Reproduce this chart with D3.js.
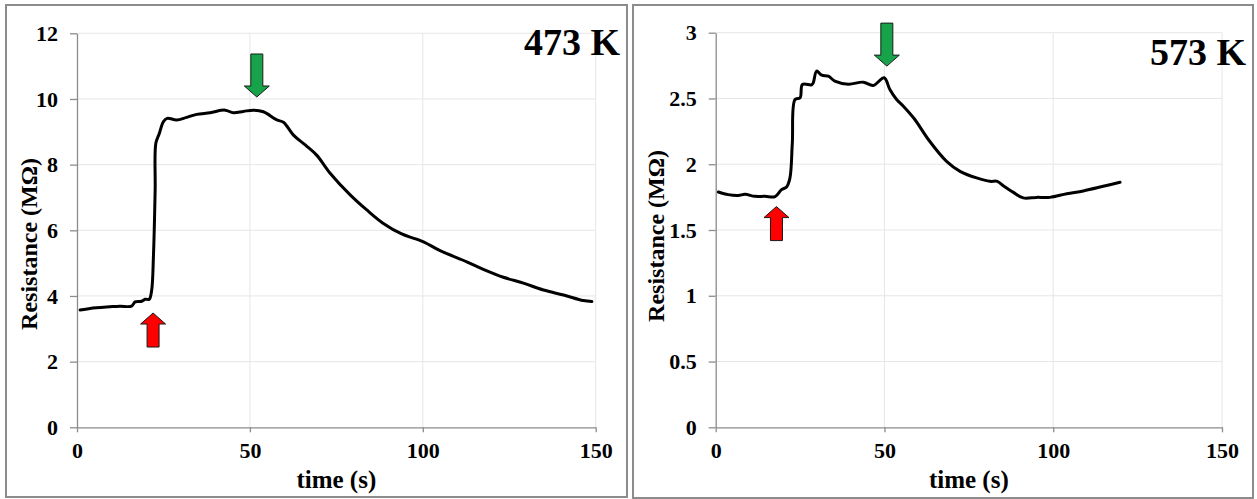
<!DOCTYPE html>
<html>
<head>
<meta charset="utf-8">
<script src="https://cdn.jsdelivr.net/npm/d3@7"></script>
<style>
  body { margin: 0; background: #fff; }
  text { font-family: "Liberation Serif", "Times New Roman", serif; font-weight: bold; fill: #000; }
</style>
</head>
<body>
<div id="chart"></div>
<script>
var svgWidth = 1257;
var svgHeight = 499;

// 473 K run
var time473 = [0.9, 3.8, 9.5, 12.4, 15.8, 16.8, 18.7, 19.7, 20.9, 21.6, 22.1, 22.6, 22.8, 23.8, 25, 26.1, 28.8, 31.7, 34.6, 38.5, 42.8, 45.2, 48.1, 51, 53.9, 57.8, 59.7, 62.6, 66, 69.3, 73.2, 79, 83.8, 88.6, 93.9, 100.2, 105, 112.7, 117.5, 123.3, 129.1, 134.9, 140.7, 146.4, 148.9];
var res473 = [3.57, 3.62, 3.67, 3.69, 3.69, 3.82, 3.84, 3.9, 3.9, 4.18, 5.2, 7.23, 8.65, 8.95, 9.31, 9.41, 9.36, 9.44, 9.53, 9.58, 9.66, 9.58, 9.62, 9.66, 9.61, 9.36, 9.29, 8.9, 8.6, 8.29, 7.74, 7.08, 6.62, 6.21, 5.89, 5.65, 5.38, 5.04, 4.81, 4.57, 4.39, 4.18, 4.03, 3.86, 3.83];

// 573 K run
var time573 = [0.8, 3.7, 6.7, 8.7, 11.6, 14.6, 17.6, 19.5, 21, 22, 22.7, 23.5, 25, 25.7, 28.4, 28.9, 29.9, 31.4, 33.4, 35.3, 39.3, 43.7, 46.7, 49.9, 51.6, 53.6, 55.6, 59, 63, 68.4, 72.4, 77.3, 81.3, 83.4, 85.2, 88.2, 91.1, 95.1, 99, 104, 108.9, 114.8, 119.8];
var res573 = [1.789, 1.769, 1.763, 1.771, 1.756, 1.756, 1.754, 1.807, 1.827, 1.896, 2.162, 2.492, 2.505, 2.606, 2.604, 2.619, 2.708, 2.677, 2.669, 2.632, 2.609, 2.624, 2.599, 2.657, 2.568, 2.492, 2.441, 2.34, 2.188, 2.022, 1.946, 1.896, 1.87, 1.87, 1.837, 1.786, 1.744, 1.748, 1.748, 1.776, 1.797, 1.832, 1.863];

// gas on (red, up) / gas off (green, down) arrow tips
var arrowTime473 = [22, 52];
var arrowRes473 = [3.48, 10.06];
var arrowTime573 = [18, 50.7];
var arrowRes573 = [1.678, 2.746];
var arrowDir = ["up", "down"];

var xTicks = [0, 50, 100, 150];
var yTicks473 = [0, 2, 4, 6, 8, 10, 12];
var yTicks573 = [0, 0.5, 1, 1.5, 2, 2.5, 3];

var panels = [
  {label: "473 K", time: time473, res: res473, aTime: arrowTime473, aRes: arrowRes473, yTicks: yTicks473, yMax: 12,
   frame: [6, 5, 621, 492], plot: {left: 77, right: 595.7, top: 33.3, bottom: 427.3},
   labelY: 55, titleX: 37, titleY: 244},
  {label: "573 K", time: time573, res: res573, aTime: arrowTime573, aRes: arrowRes573, yTicks: yTicks573, yMax: 3,
   frame: [633, 5, 620, 493], plot: {left: 715.7, right: 1222, top: 32.7, bottom: 427.3},
   labelY: 65, titleX: 663.5, titleY: 236}
];

var svg = d3.select("#chart").append("svg").attr("width", svgWidth).attr("height", svgHeight);

panels.forEach(function(p) {
  var g = svg.append("g");

  g.append("rect")
    .attr("x", p.frame[0]).attr("y", p.frame[1])
    .attr("width", p.frame[2]).attr("height", p.frame[3])
    .attr("fill", "#fff").attr("stroke", "#8c8c8c").attr("stroke-width", 2);

  var xScale = d3.scaleLinear().domain([0, 150]).range([p.plot.left, p.plot.right]);
  var yScale = d3.scaleLinear().domain([0, p.yMax]).range([p.plot.bottom, p.plot.top]);

  // gridlines
  g.append("g").selectAll("line").data(p.yTicks.slice(1)).enter().append("line")
    .attr("x1", p.plot.left).attr("x2", p.plot.right)
    .attr("y1", d => yScale(d)).attr("y2", d => yScale(d))
    .attr("stroke", "#e6e6e6").attr("stroke-width", 1);
  g.append("g").selectAll("line").data(xTicks.slice(1)).enter().append("line")
    .attr("x1", d => xScale(d)).attr("x2", d => xScale(d))
    .attr("y1", p.plot.top).attr("y2", p.plot.bottom)
    .attr("stroke", "#e6e6e6").attr("stroke-width", 1);

  var bottomAxis = d3.axisBottom(xScale).tickValues(xTicks).tickSize(5).tickSizeOuter(0);
  var leftAxis = d3.axisLeft(yScale).tickValues(p.yTicks).tickFormat(d3.format("~g"))
    .tickSize(7).tickPadding(12).tickSizeOuter(0);

  var xAxis = g.append("g").attr("transform", `translate(0,${p.plot.bottom})`).call(bottomAxis);
  var yAxis = g.append("g").attr("transform", `translate(${p.plot.left},0)`).call(leftAxis);

  [xAxis, yAxis].forEach(function(a) {
    a.attr("font-family", null).attr("font-size", null);
    a.select(".domain").attr("stroke", "#8c8c8c").attr("stroke-width", 1.3);
    a.selectAll(".tick line").attr("stroke", "#8c8c8c").attr("stroke-width", 1.3);
    a.selectAll(".tick text")
      .style("font-family", "'Liberation Serif', 'Times New Roman', serif")
      .style("font-weight", "bold")
      .style("font-size", "22px")
      .attr("fill", "#000");
  });
  xAxis.selectAll(".tick text").attr("y", 31).attr("dy", 0);

  var line = d3.line()
    .x((d, i) => xScale(p.time[i]))
    .y(d => yScale(d))
    .curve(d3.curveCatmullRom.alpha(0.5));

  g.append("path").datum(p.res)
    .attr("d", line)
    .attr("fill", "none").attr("stroke", "#000").attr("stroke-width", 3)
    .attr("stroke-linejoin", "round").attr("stroke-linecap", "round");

  // arrows
  p.aTime.forEach(function(t, i) {
    var tipX = xScale(t), tipY = yScale(p.aRes[i]);
    var down = arrowDir[i] === "down";
    var len = down ? 43 : 34, head = 11, hw = 12.5, sw = 6;
    var s = down ? -1 : 1;
    var pts = [
      [0, 0], [hw, s * head], [sw, s * head], [sw, s * len],
      [-sw, s * len], [-sw, s * head], [-hw, s * head]
    ];
    g.append("path")
      .attr("d", "M" + pts.map(q => (tipX + q[0]) + "," + (tipY + q[1])).join("L") + "Z")
      .attr("fill", down ? "#16a34a" : "#ff0000")
      .attr("stroke", "#1a1a1a").attr("stroke-width", 1);
  });

  g.append("text")
    .attr("x", p.frame[0] + p.frame[2] - 7).attr("y", p.labelY)
    .attr("text-anchor", "end").style("font-size", "38px")
    .text(p.label);

  g.append("text")
    .attr("x", (p.plot.left + p.plot.right) / 2).attr("y", 488)
    .attr("text-anchor", "middle").style("font-size", "25px")
    .text("time (s)");

  g.append("text")
    .attr("transform", `translate(${p.titleX},${p.titleY}) rotate(-90)`)
    .attr("text-anchor", "middle").style("font-size", "24px")
    .text("Resistance (MΩ)");
});
</script>
</body>
</html>
